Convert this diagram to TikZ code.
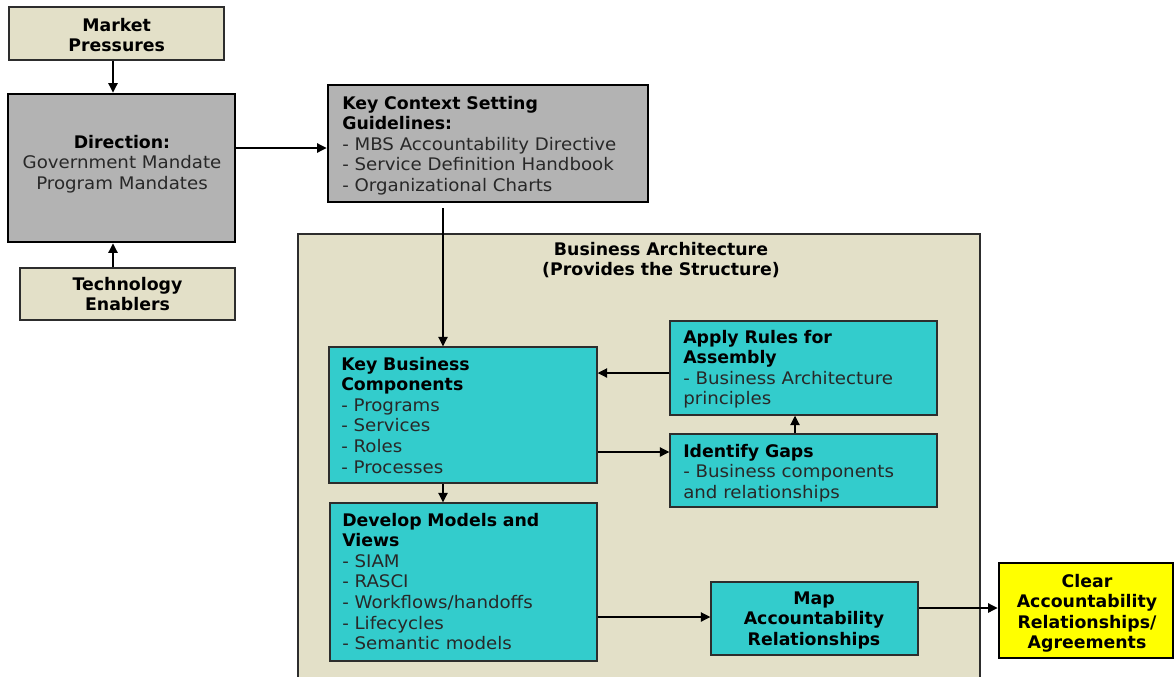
\documentclass[tikz,border=0pt]{standalone}
\usepackage{fontspec}
\setmainfont{DejaVu Sans}[UprightFeatures={FakeStretch=1.05}]
\usetikzlibrary{arrows.meta,fit}

\definecolor{paper}{RGB}{227,224,200}
\definecolor{slate}{RGB}{179,179,179}
\definecolor{teal}{RGB}{51,204,204}
\definecolor{lemon}{RGB}{255,255,0}
\definecolor{edge}{RGB}{45,45,45}
\definecolor{ink}{RGB}{40,40,40}

\newcommand{\hd}[1]{\textbf{\color{black}#1}}

\begin{document}
\begin{tikzpicture}[x=0.75pt,y=-0.75pt,
  box/.style={draw=edge, line width=1.1pt, inner sep=0pt},
  heavy/.style={draw=black, line width=2.2pt, inner sep=0pt},
  lbl/.style={inner sep=0pt, text width=330pt, align=left, anchor=base west,
              text=ink, font=\fontsize{13}{15.45}\selectfont},
  clbl/.style={lbl, text width=200pt, align=center, anchor=base},
  arr/.style={-{Triangle[length=7pt,width=7pt]}, line width=0.8pt, draw=black}
]
\useasboundingbox (0,0) rectangle (1175,676);
\clip (0,0) rectangle (1175,676);
\fill[white] (0,0) rectangle (1175,676);

% outer context boxes
\node[box, fill=paper, fit={(9,7) (224,60)}] (market) {};
\node[heavy, fill=slate, fit={(8,94) (235,242)}] (direction) {};
\node[box, fill=paper, fit={(20,268) (235,320)}] (tech) {};
\node[heavy, fill=slate, fit={(328,85) (648,202)}] (keyctx) {};

% business architecture container
\node[box, fill=paper, fit={(298,234) (980,700)}] (arch) {};

% inner process boxes
\node[box, fill=teal, fit={(329,347) (597,483)}] (kbc) {};
\node[box, fill=teal, fit={(670,321) (937,415)}] (apply) {};
\node[box, fill=teal, fit={(670,434) (937,507)}] (gaps) {};
\node[box, fill=teal, fit={(330,503) (597,661)}] (develop) {};
\node[box, fill=teal, fit={(711,582) (918,655)}] (map) {};
\node[heavy, fill=lemon, fit={(999,563) (1173,658)}] (clear) {};

% labels
\node[clbl] (marketT) at (116.7,31) {\hd{Market}\\\hd{Pressures}};
\node[clbl] (directionT) at (122,148) {\hd{Direction:}\\Government Mandate\\Program Mandates};
\node[clbl] (techT) at (127.5,290) {\hd{Technology}\\\hd{Enablers}};
\node[lbl] (keyctxT) at (342,109) {\hd{Key Context Setting}\\\hd{Guidelines:}\\- MBS Accountability Directive\\- Service Definition Handbook\\- Organizational Charts};
\node[clbl] (archT) at (661,255) {\hd{Business Architecture}\\\hd{(Provides the Structure)}};
\node[lbl] (kbcT) at (341,370) {\hd{Key Business}\\\hd{Components}\\- Programs\\- Services\\- Roles\\- Processes};
\node[lbl] (applyT) at (683,343) {\hd{Apply Rules for}\\\hd{Assembly}\\- Business Architecture\\principles};
\node[lbl] (gapsT) at (683,457) {\hd{Identify Gaps}\\- Business components\\and relationships};
\node[lbl] (developT) at (342,526) {\hd{Develop Models and}\\\hd{Views}\\- SIAM\\- RASCI\\- Workflows/handoffs\\- Lifecycles\\- Semantic models};
\node[clbl] (mapT) at (814,604) {\hd{Map}\\\hd{Accountability}\\\hd{Relationships}};
\node[clbl] (clearT) at (1087,587) {\hd{Clear}\\\hd{Accountability}\\\hd{Relationships/}\\\hd{Agreements}};

% guide lines for the connectors
\coordinate (xa) at (113,0);
\coordinate (ya) at (0,148);
\coordinate (xb) at (443,0);
\coordinate (xc) at (795,0);
\coordinate (yc) at (0,373);
\coordinate (yd) at (0,452);
\coordinate (ye) at (0,617);
\coordinate (yf) at (0,608);

% connectors
\draw[arr] (market.south -| xa) -- (direction.north -| xa);
\draw[arr] (tech.north -| xa) -- (direction.south -| xa);
\draw[arr] (direction.east |- ya) -- (keyctx.west |- ya);
\draw[arr] ([yshift=-3.75pt]keyctx.south -| xb) -- (kbc.north -| xb);
\draw[arr] (apply.west |- yc) -- (kbc.east |- yc);
\draw[arr] (kbc.east |- yd) -- (gaps.west |- yd);
\draw[arr] (gaps.north -| xc) -- (apply.south -| xc);
\draw[arr] (kbc.south -| xb) -- (develop.north -| xb);
\draw[arr] (develop.east |- ye) -- (map.west |- ye);
\draw[arr] (map.east |- yf) -- (clear.west |- yf);
\end{tikzpicture}
\end{document}
